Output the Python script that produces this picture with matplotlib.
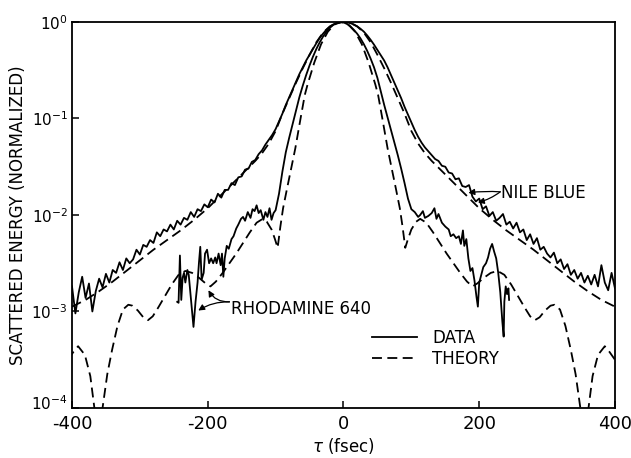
import numpy as np
import matplotlib.pyplot as plt
from matplotlib.ticker import FixedLocator, LogFormatterMathtext, NullLocator
from matplotlib.transforms import ScaledTranslation

plt.rcParams['font.family'] = 'DejaVu Sans'
plt.rcParams['mathtext.default'] = 'regular'
plt.rcParams['axes.unicode_minus'] = False

# log10 of scattered energy, Nile blue measurement (5 fsec sampling)
nile_data_tau = np.arange(-400, 405, 5)
nile_data_log = [
    -2.74, -3.02, -2.80, -2.64, -2.86, -2.71, -3.00, -2.79, -2.66, -2.75,
    -2.61, -2.70, -2.57, -2.60, -2.49, -2.57, -2.45, -2.50, -2.46, -2.36,
    -2.41, -2.31, -2.33, -2.26, -2.29, -2.18, -2.22, -2.15, -2.17, -2.10,
    -2.15, -2.06, -2.10, -2.03, -2.05, -1.97, -2.02, -1.94, -1.96, -1.89,
    -1.92, -1.84, -1.87, -1.78, -1.82, -1.74, -1.74, -1.67, -1.69, -1.61,
    -1.60, -1.53, -1.52, -1.45, -1.43, -1.37, -1.33, -1.27, -1.22, -1.17,
    -1.11, -1.03, -0.95, -0.86, -0.78, -0.70, -0.62, -0.54, -0.47, -0.40,
    -0.34, -0.28, -0.22, -0.165, -0.12, -0.08, -0.05, -0.025, -0.01, -0.002,
    0.0, -0.004, -0.012, -0.025, -0.045, -0.07, -0.10, -0.14, -0.185, -0.235,
    -0.29, -0.345, -0.40, -0.47, -0.55, -0.63, -0.71, -0.79, -0.88, -0.96,
    -1.04, -1.12, -1.19, -1.25, -1.30, -1.34, -1.38, -1.42, -1.44, -1.49,
    -1.50, -1.56, -1.57, -1.63, -1.62, -1.70, -1.71, -1.69, -1.81, -1.86,
    -1.83, -1.94, -1.91, -2.01, -1.97, -2.06, -2.03, -1.99, -2.10, -2.07,
    -2.14, -2.08, -2.18, -2.15, -2.26, -2.20, -2.30, -2.24, -2.36, -2.33,
    -2.40, -2.44, -2.39, -2.50, -2.46, -2.56, -2.51, -2.62, -2.57, -2.66,
    -2.60, -2.70, -2.63, -2.72, -2.62, -2.74, -2.52, -2.70, -2.78, -2.60,
    -2.76,
]

# Nile blue theory, one half (symmetric about tau = 0)
nile_theory_half_tau = [0, 10, 20, 30, 40, 50, 60, 70, 80, 90, 100, 110, 120,
                        130, 140, 150, 160, 170, 180, 190, 200, 220, 240, 260,
                        280, 300, 320, 340, 360, 380, 400]
nile_theory_half_log = [0.0, -0.01, -0.045, -0.11, -0.21, -0.34, -0.48, -0.63,
                        -0.79, -0.95, -1.13, -1.26, -1.36, -1.44, -1.51, -1.58,
                        -1.65, -1.72, -1.79, -1.86, -1.93, -2.05, -2.16, -2.26,
                        -2.36, -2.47, -2.58, -2.69, -2.79, -2.88, -2.95]

# Rhodamine 640 measurement
rhod_data_tau = [
    -245, -243, -241, -239, -237, -235, -233, -230, -228, -225, -223, -221,
    -218, -215, -213, -211, -209, -206, -204, -201, -198, -195, -192, -189,
    -187, -184, -181, -179, -177, -175, -172, -169, -165, -162, -158, -155,
    -151, -148, -145, -141, -137, -134, -131, -128, -125, -122, -118, -115,
    -112, -109, -106, -103,
    -100, -95, -90, -85, -80, -75, -70, -65, -60, -55, -50, -45, -40, -35,
    -30, -25, -20, -15, -10, -5, 0, 5, 10, 15, 20, 25, 30, 35, 40, 45, 50,
    55, 60, 65, 70, 75, 80, 85, 90, 95, 100,
    105, 110, 113, 117, 120, 125, 130, 134, 137, 140, 145, 150, 155, 158,
    162, 166, 170, 173, 176, 178, 181, 184, 187, 190, 193, 196, 198, 200,
    203, 206, 210, 213, 216, 219, 222, 225, 228, 231, 234, 236, 237, 239,
    241, 243, 244,
]
rhod_data_log = [
    -2.90, -2.91, -2.42, -2.88, -2.65, -2.60, -2.70, -2.57, -2.62, -2.85, -3.00, -3.16,
    -2.90, -2.70, -2.50, -2.33, -2.67, -2.60, -2.40, -2.36, -2.50, -2.45, -2.50, -2.44,
    -2.50, -2.40, -2.52, -2.40, -2.64, -2.45, -2.32, -2.35, -2.25, -2.22, -2.14, -2.10,
    -2.04, -2.02, -2.06, -1.97, -2.03, -1.94, -1.96, -1.90, -1.98, -1.95, -2.05, -1.97,
    -2.02, -1.93, -2.05, -1.98,
    -1.95, -1.78, -1.55, -1.35, -1.20, -1.06, -0.92, -0.78, -0.66, -0.55, -0.45, -0.36,
    -0.28, -0.21, -0.15, -0.10, -0.06, -0.03, -0.012, -0.002, -0.004, -0.02, -0.045,
    -0.08, -0.12, -0.17, -0.23, -0.30, -0.38, -0.47, -0.58, -0.72, -0.86, -0.99, -1.12,
    -1.25, -1.38, -1.52, -1.67, -1.83, -1.94,
    -1.97, -2.02, -2.00, -1.96, -2.03, -2.01, -1.98, -1.93, -2.04, -1.99, -2.08, -2.12,
    -2.15, -2.22, -2.20, -2.24, -2.22, -2.30, -2.16, -2.32, -2.25, -2.45, -2.58, -2.55,
    -2.68, -2.85, -2.95, -2.70, -2.62, -2.54, -2.50, -2.44, -2.35, -2.30, -2.38, -2.45,
    -2.60, -2.80, -3.10, -3.26, -2.90, -2.74, -2.82, -2.76, -2.88,
]

# Rhodamine 640 theory, one half, offset from the pulse centre
rhod_center = -3
rhod_theory_half_dt = [0, 10, 20, 30, 40, 50, 54, 60, 68, 75, 80, 86, 90, 94,
                       98, 103, 110, 116, 125, 135, 145, 155, 165, 175, 185,
                       193, 200, 210, 220, 230, 240, 250, 260, 270, 278, 285,
                       292, 300, 308, 314, 322, 330, 338, 345, 352, 358, 364,
                       370, 378, 388, 395, 403]
rhod_theory_half_log = [0.0, -0.025, -0.10, -0.23, -0.42, -0.65, -0.756, -0.99,
                        -1.31, -1.55, -1.72, -1.93, -2.12, -2.34, -2.25, -2.15,
                        -2.07, -2.04, -2.08, -2.18, -2.29, -2.40, -2.50, -2.60,
                        -2.69, -2.74, -2.71, -2.65, -2.60, -2.58, -2.62, -2.72,
                        -2.84, -2.96, -3.05, -3.09, -3.06, -2.99, -2.94, -2.93,
                        -2.98, -3.15, -3.40, -3.65, -4.0, -4.8, -4.0, -3.67,
                        -3.45, -3.36, -3.42, -3.50]


def mirror(half_x, half_y, center=0):
    hx = np.asarray(half_x, float)
    hy = np.asarray(half_y, float)
    x = np.concatenate([center - hx[:0:-1], center + hx])
    y = np.concatenate([hy[:0:-1], hy])
    return x, y


nile_th_x, nile_th_log = mirror(nile_theory_half_tau, nile_theory_half_log)
rhod_th_x, rhod_th_log = mirror(rhod_theory_half_dt, rhod_theory_half_log, rhod_center)

fig = plt.figure(figsize=(6.31, 4.58), dpi=100)
ax = fig.add_axes([0.1141, 0.1092, 0.8605, 0.8428])

dash = (0, (5.5, 3))
lw = 1.3
ax.plot(nile_data_tau, 10 ** np.asarray(nile_data_log), color='black', lw=lw)
ax.plot(nile_th_x, 10 ** nile_th_log, color='black', lw=lw, linestyle=dash)
ax.plot(rhod_data_tau, 10 ** np.asarray(rhod_data_log), color='black', lw=lw,
        label='DATA')
ax.plot(rhod_th_x, 10 ** rhod_th_log, color='black', lw=lw, linestyle=dash,
        label='THEORY')

ax.set_yscale('log')
ax.set_xlim(-400, 400)
ax.set_ylim(1e-4, 1)

ax.xaxis.set_major_locator(FixedLocator([-400, -200, 0, 200, 400]))
ax.xaxis.set_minor_locator(NullLocator())
ax.yaxis.set_major_locator(FixedLocator([1e-4, 1e-3, 1e-2, 1e-1, 1]))
ax.yaxis.set_major_formatter(LogFormatterMathtext())
ax.yaxis.set_minor_locator(NullLocator())
ax.tick_params(direction='in', length=5, width=1.1, labelsize=13, pad=5)
ax.tick_params(axis='y', labelsize=11, pad=3)
for s in ax.spines.values():
    s.set_linewidth(1.3)

ax.set_xlabel(r'$\mathit{\tau}$ (fsec)', fontsize=12, labelpad=2)
ax.set_ylabel('SCATTERED ENERGY (NORMALIZED)', fontsize=12, labelpad=3)

arrow = dict(arrowstyle='-|>', color='black', lw=0.9, mutation_scale=9,
             shrinkA=0, shrinkB=0)
ax.text(232, 10 ** -1.77, 'NILE BLUE', fontsize=12, va='center', ha='left')
ax.annotate('', xy=(184, 10 ** -1.77), xytext=(231, 10 ** -1.76),
            arrowprops=dict(arrow, connectionstyle='arc3,rad=0.05'))
ax.annotate('', xy=(198, 10 ** -1.87), xytext=(231, 10 ** -1.76),
            arrowprops=dict(arrow, connectionstyle='arc3,rad=-0.1'))

ax.text(-166, 10 ** -2.97, 'RHODAMINE 640', fontsize=12, va='center', ha='left')
ax.annotate('', xy=(-214, 10 ** -2.99), xytext=(-168, 10 ** -2.90),
            arrowprops=dict(arrow, connectionstyle='arc3,rad=0.15'))
ax.annotate('', xy=(-199, 10 ** -2.78), xytext=(-168, 10 ** -2.90),
            arrowprops=dict(arrow, connectionstyle='arc3,rad=-0.3'))

ax.legend(loc='upper left', bbox_to_anchor=(0.5525, 0.205), frameon=False,
          fontsize=12, handlelength=2.7, handletextpad=0.9, labelspacing=0.2,
          borderpad=0, borderaxespad=0)

# lift the bottom decade label a little so it clears the -400 label
fig.canvas.draw()
low = ax.get_yticklabels()[0]
low.set_transform(low.get_transform() + ScaledTranslation(0, 4 / 72, fig.dpi_scale_trans))

fig.savefig('out.png', dpi=100)
